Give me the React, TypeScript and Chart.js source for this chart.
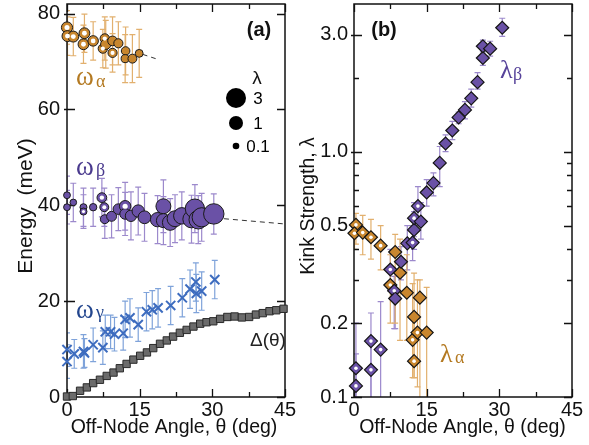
import React, { useEffect, useRef } from 'react';
import { Chart, registerables } from 'chart.js';
Chart.register(...registerables);

// ---------------- Panel (a): energies ----------------
const xMajorTicks = [0, 15, 30, 45];
const xMinorTicks = [7.5, 22.5, 37.5];
const energyTicks = [0, 20, 40, 60, 80];

// omega_alpha (orange circles)
const alphaTheta = [0, 0.1, 1.3, 3.6, 3.4, 5.4, 7.8, 7.4, 8.0, 9.4, 9.4, 10.6, 12.1, 12.0, 13.5, 14.9];
const alphaEnergy = [77.1, 75.3, 75.2, 75.9, 73.6, 74.3, 74.8, 72.7, 73.6, 74.3, 71.8, 73.8, 72.2, 70.6, 70.6, 71.7];
const alphaErr = [3.5, 4, 4, 4, 4, 4, 4.5, 4, 5, 5, 4, 4.5, 5, 5, 5, 5];
const alphaLam = [0.5, 0.47, 0.47, 0.45, 0.45, 0.41, 0.3, 0.29, 0.39, 0.32, 0.27, 0.27, 0.22, 0.18, 0.25, 0.17];
const alphaOpen = [1, 1, 1, 1, 1, 1, 1, 1, 0, 0, 1, 0, 0, 0, 0, 0];
const alphaFitTheta = [15.6, 18.3];
const alphaFitEnergy = [71.5, 70.6];

// omega_beta (purple circles)
const betaTheta = [0, 0, 1.3, 3.4, 3.4, 5.4, 7.2, 7.7, 7.8, 9.2, 10.6, 12.0, 12.0, 13.2, 14.7, 16.0, 18.7, 19.9, 19.9, 21.3, 22.3, 23.7, 25.7, 26.4, 27.1, 27.8, 30.3];
const betaEnergy = [42.1, 39.6, 40.6, 39.6, 38.7, 39.6, 41.6, 39.6, 37.1, 37.7, 39.2, 39.8, 38.2, 37.8, 38.8, 37.5, 37.0, 39.8, 36.8, 36.4, 37.2, 37.8, 37.1, 39.3, 37.0, 37.5, 38.2];
const betaErr = [4, 3.5, 4, 4, 3.5, 4, 4, 4, 4, 4.5, 4.5, 5, 4.5, 5, 5, 5, 5, 5.5, 5, 5, 5, 5, 5, 5, 5, 5, 4.2];
const betaLam = [0.11, 0.11, 0.1, 0.12, 0.12, 0.14, 0.33, 0.25, 0.25, 0.35, 0.42, 0.54, 0.43, 0.52, 0.68, 0.75, 1.08, 1.22, 1.0, 1.38, 1.48, 1.65, 1.92, 2.69, 2.41, 2.63, 3.2];
const betaOpen = [0, 0, 0, 0, 1, 0, 1, 1, 0, 0, 0, 1, 0, 0, 0, 0, 0, 0, 0, 0, 0, 0, 0, 0, 0, 0, 0];
const betaFitTheta = [32.4, 45];
const betaFitEnergy = [37.2, 36.1];

// omega_gamma (blue crosses)
const gammaTheta = [0, 0, 1.5, 3.4, 3.6, 5.4, 7.4, 7.9, 9.0, 9.8, 11.6, 12.0, 13.0, 14.7, 16.4, 17.6, 18.8, 21.4, 23.8, 25.4, 26.6, 26.7, 27.8, 30.5];
const gammaEnergy = [9.9, 7.4, 9.0, 9.5, 9.2, 10.9, 10.3, 13.6, 13.6, 13.1, 13.3, 16.2, 16.5, 15.1, 17.8, 18.2, 18.6, 19.1, 20.7, 22.5, 24.0, 21.6, 22.1, 24.5];
const gammaErr = [3.5, 3.5, 3, 3.5, 3, 3.5, 3.5, 3.5, 3.5, 3.5, 3.5, 3.8, 4, 3.5, 4, 4, 4, 4, 4, 4, 4, 4, 4, 4];

// gap Delta(theta) (gray squares)
const deltaTheta = [0, 1.2, 2.7, 4.1, 5.4, 6.8, 8.2, 9.6, 10.9, 12.3, 13.7, 15.1, 16.5, 17.8, 19.2, 20.6, 21.9, 23.3, 24.7, 26.1, 27.5, 28.8, 30.2, 31.6, 33.1, 34.6, 36.1, 37.6, 39.0, 40.4, 41.8, 43.2, 44.7];
const deltaEnergy = [0.1, 0.2, 1.3, 2.0, 2.9, 3.6, 4.4, 5.1, 6.0, 6.9, 7.8, 8.6, 9.3, 10.2, 11.1, 11.8, 12.6, 13.4, 14.0, 14.7, 15.3, 15.6, 15.8, 16.3, 16.7, 16.8, 16.6, 16.7, 17.2, 17.5, 17.9, 18.1, 18.4];

const sizeLegendValues = [3, 1, 0.1];

// ---------------- Panel (b): kink strength ----------------
const lamMajorTicks = [0.1, 0.2, 0.5, 1, 3];
const lamMinorTicks = [0.3, 0.4, 0.6, 0.7, 0.8, 0.9, 2];
const lamLabels: Record<string, string> = { '0.1': '0.1', '0.2': '0.2', '0.5': '0.5', '1': '1.0', '3': '3.0' };

const lbTheta = [0.4, 0.4, 3.5, 3.5, 5.5, 7.5, 8.3, 8.5, 9.7, 11.0, 12.1, 12.4, 12.4, 13.8, 13.2, 15.0, 16.4, 17.7, 18.9, 20.3, 21.6, 22.9, 24.2, 25.5, 26.6, 26.6, 28.1, 30.6];
const lbLambda = [0.111, 0.131, 0.169, 0.129, 0.156, 0.331, 0.271, 0.252, 0.356, 0.423, 0.426, 0.48, 0.536, 0.519, 0.60, 0.682, 0.745, 0.90, 1.08, 1.22, 1.38, 1.48, 1.65, 1.92, 2.41, 2.69, 2.63, 3.20];
const lbLo = [0.08, 0.08, 0.08, 0.08, 0.08, 0.27, 0.19, 0.19, 0.3, 0.33, 0.36, 0.4, 0.45, 0.44, 0.5, 0.6, 0.66, 0.72, 1.0, 1.12, 1.3, 1.36, 1.52, 1.8, 2.25, 2.55, 2.45, 2.95];
const lbHi = [0.15, 0.2, 0.22, 0.17, 0.245, 0.4, 0.31, 0.32, 0.41, 0.5, 0.5, 0.57, 0.62, 0.62, 0.72, 0.77, 0.82, 1.05, 1.17, 1.33, 1.45, 1.6, 1.8, 2.1, 2.6, 2.85, 2.82, 3.5];
const lbWhite = [1, 1, 1, 1, 1, 1, 1, 0, 0, 0, 1, 0, 1, 0, 1, 0, 0, 0, 0, 0, 0, 0, 0, 0, 0, 0, 0, 0];

const laTheta = [0.4, 0.1, 1.8, 3.5, 5.5, 8.5, 7.5, 9.5, 10.9, 12.4, 13.6, 12.1, 13.1, 15.0, 12.4];
const laLambda = [0.503, 0.465, 0.468, 0.448, 0.414, 0.39, 0.286, 0.321, 0.266, 0.212, 0.254, 0.171, 0.183, 0.183, 0.14];
const laLo = [0.42, 0.4, 0.38, 0.365, 0.33, 0.2, 0.2, 0.17, 0.17, 0.12, 0.09, 0.12, 0.11, 0.09, 0.12];
const laHi = [0.56, 0.53, 0.55, 0.53, 0.5, 0.46, 0.38, 0.44, 0.38, 0.32, 0.3, 0.29, 0.3, 0.28, 0.22];
const laWhite = [1, 1, 1, 1, 1, 0, 1, 0, 0, 0, 0, 1, 1, 0, 1];

// ---------------- styling ----------------
const SANS = "'Liberation Sans', Arial, Helvetica, sans-serif";
const SERIF = "'Liberation Serif', 'Times New Roman', serif";
const ORANGE = '#c8862e';
const ORANGE_ERR = '#e2b06e';
const PURPLE = '#6a51a6';
const PURPLE_ERR = '#9c89cc';
const BLUE = '#3d6cbf';
const BLUE_ERR = '#7fa3da';
const GRAY = '#6b6b6b';

const radiusForLambda = (l: number) => 7 * Math.pow(l, 0.325);

const errorBars = {
  id: 'errorBars',
  beforeDatasetsDraw(chart: any) {
    const { ctx, chartArea: a, scales } = chart;
    ctx.save();
    ctx.beginPath();
    ctx.rect(a.left, a.top, a.right - a.left, a.bottom - a.top);
    ctx.clip();
    chart.data.datasets.forEach((ds: any) => {
      if (!ds.errColor) return;
      ctx.strokeStyle = ds.errColor;
      ctx.lineWidth = 1.2;
      ds.data.forEach((p: any) => {
        if (p.lo == null) return;
        const x = scales.x.getPixelForValue(p.x);
        const y1 = scales.y.getPixelForValue(p.lo);
        const y2 = scales.y.getPixelForValue(p.hi);
        ctx.beginPath();
        ctx.moveTo(x, y1);
        ctx.lineTo(x, y2);
        ctx.moveTo(x - 3, y1);
        ctx.lineTo(x + 3, y1);
        ctx.moveTo(x - 3, y2);
        ctx.lineTo(x + 3, y2);
        ctx.stroke();
      });
    });
    ctx.restore();
  },
};

const frame = {
  id: 'frame',
  beforeDatasetsDraw(chart: any, _args: any, opts: any) {
    const { ctx, chartArea: a, scales } = chart;
    ctx.save();
    ctx.strokeStyle = '#111';
    ctx.lineWidth = 1.5;
    ctx.strokeRect(a.left, a.top, a.right - a.left, a.bottom - a.top);
    ctx.lineWidth = 1.3;
    const xt = (vals: number[], len: number) => {
      vals.forEach((v) => {
        const x = Math.round(scales.x.getPixelForValue(v)) + 0.5;
        ctx.beginPath();
        ctx.moveTo(x, a.bottom);
        ctx.lineTo(x, a.bottom - len);
        ctx.moveTo(x, a.top);
        ctx.lineTo(x, a.top + len);
        ctx.stroke();
      });
    };
    const yt = (vals: number[], len: number, out: number) => {
      vals.forEach((v) => {
        const y = Math.round(scales.y.getPixelForValue(v)) + 0.5;
        ctx.beginPath();
        ctx.moveTo(a.left - out, y);
        ctx.lineTo(a.left + len, y);
        ctx.moveTo(a.right, y);
        ctx.lineTo(a.right - len, y);
        ctx.stroke();
      });
    };
    xt(opts.xMajor || [], 8);
    xt(opts.xMinor || [], 5);
    yt(opts.yMajor || [], 8, 3);
    yt(opts.yMinor || [], 5, 0);
    ctx.restore();
  },
};

const annot = {
  id: 'annot',
  afterDraw(chart: any, _args: any, opts: any) {
    const { ctx, chartArea: a } = chart;
    ctx.save();
    (opts.texts || []).forEach((t: any) => {
      ctx.save();
      ctx.font = t.font;
      ctx.fillStyle = t.color || '#111';
      ctx.textAlign = t.align || 'left';
      ctx.textBaseline = t.baseline || 'alphabetic';
      const x = t.abs ? t.x : a.left + t.x;
      const y = t.abs ? t.y : a.top + t.y;
      ctx.translate(x, y);
      if (t.rot) ctx.rotate(t.rot);
      ctx.fillText(t.text, 0, 0);
      ctx.restore();
    });
    if (opts.bubbles) {
      const b = opts.bubbles;
      b.values.forEach((v: number, i: number) => {
        ctx.beginPath();
        ctx.arc(a.left + b.x, a.top + b.ys[i], radiusForLambda(v), 0, Math.PI * 2);
        ctx.fillStyle = '#000';
        ctx.fill();
        ctx.font = `17px ${SANS}`;
        ctx.textAlign = 'center';
        ctx.textBaseline = 'middle';
        ctx.fillText(String(v), a.left + b.tx, a.top + b.ys[i] + 1);
      });
    }
    ctx.restore();
  },
};

const pts = (xs: number[], ys: number[], errs?: number[]) =>
  xs.map((x, i) => ({ x, y: ys[i], lo: errs ? ys[i] - errs[i] : undefined, hi: errs ? ys[i] + errs[i] : undefined }));
const ptsLoHi = (xs: number[], ys: number[], lo: number[], hi: number[]) =>
  xs.map((x, i) => ({ x, y: ys[i], lo: lo[i], hi: hi[i] }));
const pick = (arr: any[], flags: number[]) => arr.filter((_, i) => flags[i]);

const tickFont = { family: SANS, size: 20 };

const fitX = (h: number) => (s: any) => {
  s.height = h;
  s.paddingLeft = 0;
  s.paddingRight = 0;
};
const fitY = (w: number) => (s: any) => {
  s.width = w;
  s.paddingTop = 0;
  s.paddingBottom = 0;
};

const xScale = () => ({
  type: 'linear', min: 0, max: 45,
  afterBuildTicks: (s: any) => { s.ticks = xMajorTicks.map((v) => ({ value: v })); },
  afterFit: fitX(48),
  grid: { display: false, drawTicks: false },
  border: { display: false },
  ticks: { font: tickFont, color: '#111', padding: 1, maxRotation: 0, autoSkip: false },
  title: { display: false },
});

function configA(): any {
  const alphaPts = pts(alphaTheta, alphaEnergy, alphaErr);
  const betaPts = pts(betaTheta, betaEnergy, betaErr);
  return {
    type: 'scatter',
    data: {
      datasets: [
        {
          data: pts(alphaFitTheta, alphaFitEnergy), type: 'line', showLine: true, pointRadius: 0,
          borderColor: '#333', borderWidth: 1, borderDash: [5, 4], order: 9, clip: false,
        },
        {
          data: pts(betaFitTheta, betaFitEnergy), type: 'line', showLine: true, pointRadius: 0,
          borderColor: '#333', borderWidth: 1, borderDash: [5, 4], order: 9, clip: false,
        },
        {
          data: pick(alphaPts, alphaOpen), pointStyle: 'circle',
          pointRadius: pick(alphaLam, alphaOpen).map((l: number) => radiusForLambda(l) * 0.45),
          backgroundColor: '#fff', borderWidth: 0, order: 1, clip: false,
        },
        {
          data: alphaPts, errColor: ORANGE_ERR, pointStyle: 'circle',
          pointRadius: alphaLam.map(radiusForLambda),
          backgroundColor: ORANGE, borderColor: '#1a1a1a', borderWidth: 1, order: 2, clip: false,
        },
        {
          data: pick(betaPts, betaOpen), pointStyle: 'circle',
          pointRadius: pick(betaLam, betaOpen).map((l: number) => radiusForLambda(l) * 0.45),
          backgroundColor: '#fff', borderWidth: 0, order: 3, clip: false,
        },
        {
          data: betaPts, errColor: PURPLE_ERR, pointStyle: 'circle',
          pointRadius: betaLam.map(radiusForLambda),
          backgroundColor: PURPLE, borderColor: '#1a1a1a', borderWidth: 1, order: 4, clip: false,
        },
        {
          data: pts(gammaTheta, gammaEnergy, gammaErr), errColor: BLUE_ERR, pointStyle: 'crossRot',
          pointRadius: 6.5, borderColor: BLUE, borderWidth: 2, order: 5, clip: false,
        },
        {
          data: pts(deltaTheta, deltaEnergy), pointStyle: 'rect', pointRadius: 5.2,
          backgroundColor: GRAY, borderColor: '#2a2a2a', borderWidth: 1, order: 6, clip: false,
        },
      ],
    },
    options: {
      responsive: false,
      animation: false,
      devicePixelRatio: 1,
      events: [],
      layout: { autoPadding: false, padding: { left: 0, right: 15, top: 4, bottom: 0 } },
      plugins: {
        legend: { display: false },
        tooltip: { enabled: false },
        frame: { xMajor: xMajorTicks, xMinor: xMinorTicks, yMajor: energyTicks, yMinor: [] },
        annot: {
          texts: [
            { text: 'Energy  (meV)', x: 26, y: 206, abs: true, rot: -Math.PI / 2, font: `21px ${SANS}`, align: 'center', baseline: 'middle' },
            { text: 'Off-Node Angle, θ (deg)', x: 174, y: 428, abs: true, font: `19.5px ${SANS}`, align: 'center', baseline: 'middle' },
            { text: '(a)', x: 192, y: 32, font: `bold 20px ${SANS}`, align: 'center' },
            { text: 'ω', x: 9, y: 81, font: `27px ${SERIF}`, color: '#b47a22' },
            { text: 'α', x: 29, y: 83, font: `18px ${SERIF}`, color: '#b47a22' },
            { text: 'ω', x: 9, y: 171, font: `27px ${SERIF}`, color: '#4a3a8e' },
            { text: 'β', x: 29, y: 172, font: `18px ${SERIF}`, color: '#4a3a8e' },
            { text: 'ω', x: 9, y: 314, font: `27px ${SERIF}`, color: '#23468e' },
            { text: 'γ', x: 29, y: 314, font: `18px ${SERIF}`, color: '#23468e' },
            { text: 'Δ(θ)', x: 183, y: 342, font: `19px ${SANS}`, color: '#222' },
            { text: 'λ', x: 190, y: 80, font: `19px ${SANS}`, align: 'center' },
          ],
          bubbles: { values: sizeLegendValues, x: 169, tx: 191, ys: [94, 119, 142] },
        },
      },
      scales: {
        x: xScale(),
        y: {
          type: 'linear', min: 0, max: 82,
          afterBuildTicks: (s: any) => { s.ticks = energyTicks.map((v) => ({ value: v })); },
          afterFit: fitY(67),
          grid: { display: false, drawTicks: false },
          border: { display: false },
          ticks: { font: tickFont, color: '#111', padding: 7, autoSkip: false },
          title: { display: false },
        },
      },
    },
    plugins: [errorBars, frame, annot],
  };
}

function configB(): any {
  const laPts = ptsLoHi(laTheta, laLambda, laLo, laHi);
  const lbPts = ptsLoHi(lbTheta, lbLambda, lbLo, lbHi);
  return {
    type: 'scatter',
    data: {
      datasets: [
        {
          data: pick(lbPts, lbWhite), pointStyle: 'circle', pointRadius: 1.8,
          backgroundColor: '#fff', borderWidth: 0, order: 1, clip: false,
        },
        {
          data: lbPts, errColor: PURPLE_ERR, pointStyle: 'rectRot', pointRadius: 6.5,
          backgroundColor: PURPLE, borderColor: '#151515', borderWidth: 1.2, order: 2, clip: false,
        },
        {
          data: pick(laPts, laWhite), pointStyle: 'circle', pointRadius: 1.8,
          backgroundColor: '#fff', borderWidth: 0, order: 3, clip: false,
        },
        {
          data: laPts, errColor: ORANGE_ERR, pointStyle: 'rectRot', pointRadius: 6.5,
          backgroundColor: ORANGE, borderColor: '#151515', borderWidth: 1.2, order: 4, clip: false,
        },
      ],
    },
    options: {
      responsive: false,
      animation: false,
      devicePixelRatio: 1,
      events: [],
      layout: { autoPadding: false, padding: { left: 0, right: 17, top: 4, bottom: 0 } },
      plugins: {
        legend: { display: false },
        tooltip: { enabled: false },
        frame: { xMajor: xMajorTicks, xMinor: xMinorTicks, yMajor: lamMajorTicks, yMinor: lamMinorTicks },
        annot: {
          texts: [
            { text: 'Kink Strength, λ', x: 13, y: 206, abs: true, rot: -Math.PI / 2, font: `19.5px ${SANS}`, align: 'center', baseline: 'middle' },
            { text: 'Off-Node Angle, θ (deg)', x: 166.5, y: 428, abs: true, font: `19.5px ${SANS}`, align: 'center', baseline: 'middle' },
            { text: '(b)', x: 30, y: 32, font: `bold 20px ${SANS}`, align: 'center' },
            { text: 'λ', x: 146, y: 74, font: `26px ${SERIF}`, color: '#57439a' },
            { text: 'β', x: 159, y: 76, font: `18px ${SERIF}`, color: '#57439a' },
            { text: 'λ', x: 86, y: 358, font: `26px ${SERIF}`, color: '#b47a22' },
            { text: 'α', x: 101, y: 359, font: `18px ${SERIF}`, color: '#b47a22' },
          ],
        },
      },
      scales: {
        x: xScale(),
        y: {
          type: 'logarithmic', min: 0.1, max: 4,
          afterBuildTicks: (s: any) => { s.ticks = lamMajorTicks.map((v) => ({ value: v })); },
          afterFit: fitY(58),
          grid: { display: false, drawTicks: false },
          border: { display: false },
          ticks: {
            font: tickFont, color: '#111', padding: 6, autoSkip: false,
            callback: (v: any) => lamLabels[String(v)] ?? '',
          },
          title: { display: false },
        },
      },
    },
    plugins: [errorBars, frame, annot],
  };
}

export default function App() {
  const aRef = useRef<HTMLCanvasElement>(null);
  const bRef = useRef<HTMLCanvasElement>(null);
  useEffect(() => {
    const ca = new Chart(aRef.current!, configA());
    const cb = new Chart(bRef.current!, configB());
    return () => {
      ca.destroy();
      cb.destroy();
    };
  }, []);
  return (
    <div style={{ position: 'fixed', left: 0, top: 0, width: 589, height: 445, background: '#fff' }}>
      <canvas ref={aRef} width={300} height={445} style={{ position: 'absolute', left: 0, top: 0, width: 300, height: 445 }} />
      <canvas ref={bRef} width={293} height={445} style={{ position: 'absolute', left: 296, top: 0, width: 293, height: 445 }} />
    </div>
  );
}
